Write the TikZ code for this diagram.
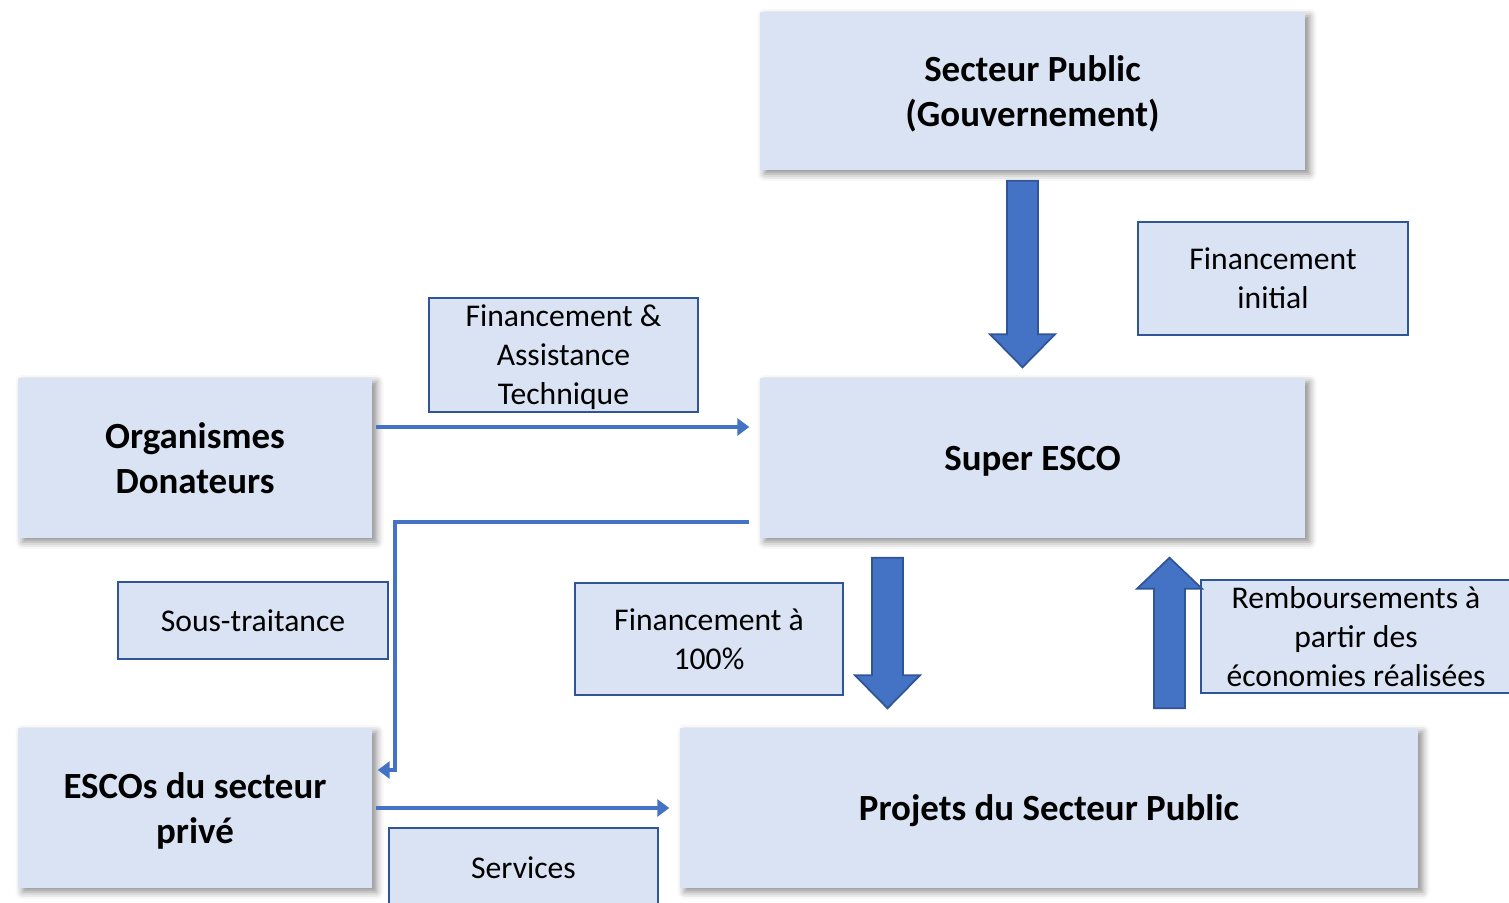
\documentclass[tikz,border=0pt]{standalone}
\usepackage{fontspec}
\setmainfont{Carlito}
\usetikzlibrary{calc,arrows.meta,shadows.blur}
\definecolor{boxfill}{HTML}{DAE3F3}
\definecolor{flowblue}{HTML}{4472C4}
\definecolor{edgeblue}{HTML}{2F5597}
\newcommand\boxtext[1]{\raisebox{-0.1em}[\dimexpr\height-1mm\relax][\dimexpr\depth-1mm\relax]{\begin{tabular}{@{}c@{}}#1\end{tabular}}}
\def\blockarrow(#1)(#2)(#3){\draw[fill=flowblue, draw=edgeblue, line width=0.5pt] ($(#1)+(-0.155,0)$) -- ($(#2)+(-0.155,#3)$) -- ($(#2)+(-0.325,#3)$) -- (#2) -- ($(#2)+(0.325,#3)$) -- ($(#2)+(0.155,#3)$) -- ($(#1)+(0.155,0)$) -- cycle;}
\tikzset{
	entity/.style={fill=boxfill, inner sep=0pt,
		blur shadow={shadow xshift=1.3pt, shadow yshift=-1.1pt, shadow blur radius=2pt, shadow opacity=45},
		font=\fontsize{10.5}{12.8}\selectfont\bfseries},
	tag/.style={fill=boxfill, draw=edgeblue, line width=0.7pt, inner sep=0pt,
		font=\fontsize{9}{11.1}\selectfont},
	flow/.style={flowblue, line width=1.4pt, -{Triangle[length=1.2mm, width=1.7mm]}}
}

\begin{document}
\begin{tikzpicture}
			%%%%% START %%%%%
			
			\useasboundingbox (0, 0) rectangle (15.09, -9.02);
			
			\node[entity, minimum width=5.45cm, minimum height=1.58cm] (sp) at (10.325, -0.91) {\boxtext{Secteur Public\\(Gouvernement)}};
			\node[entity, minimum width=5.45cm, minimum height=1.6cm] (sesco) at (10.325, -4.58) {\boxtext{Super ESCO}};
			\node[entity, minimum width=3.54cm, minimum height=1.6cm] (org) at (1.95, -4.58) {\boxtext{Organismes\\Donateurs}};
			\node[entity, minimum width=3.54cm, minimum height=1.6cm] (escos) at (1.95, -8.08) {\boxtext{ESCOs du secteur\\privé}};
			\node[entity, minimum width=7.38cm, minimum height=1.6cm] (projets) at (10.49, -8.08) {\boxtext{Projets du Secteur Public}};
			
			\node[tag, minimum width=2.7cm, minimum height=1.13cm] (finit) at (12.73, -2.785) {\boxtext{Financement\\initial}};
			\node[tag, minimum width=2.69cm, minimum height=1.14cm] (fat) at (5.635, -3.55) {\boxtext{Financement \&\\Assistance\\Technique}};
			\node[tag, minimum width=2.7cm, minimum height=0.77cm] (sous) at (2.53, -6.205) {\boxtext{Sous-traitance}};
			\node[tag, minimum width=2.68cm, minimum height=1.12cm] (fcent) at (7.09, -6.39) {\boxtext{Financement à\\100\%}};
			\node[tag, minimum width=3.1cm, minimum height=1.13cm] (remb) at (13.56, -6.365) {\boxtext{Remboursements à\\partir des\\économies réalisées}};
			\node[tag, minimum width=2.69cm, minimum height=0.8cm] (serv) at (5.235, -8.68) {\boxtext{Services}};
			
			% block arrows
			\coordinate (a1) at ([xshift=-1mm, yshift=-1mm]sp.south);
			\coordinate (b1) at ([xshift=-1mm, yshift=1mm]sesco.north);
			\blockarrow(a1)(b1)(0.33)
			
			\coordinate (a2) at ([xshift=-14.5mm, yshift=-1.9mm]sesco.south);
			\coordinate (b2) at ([xshift=-16.15mm, yshift=1.9mm]projets.north);
			\blockarrow(a2)(b2)(0.33)
			
			\coordinate (a3) at ([xshift=12.05mm, yshift=1.9mm]projets.north);
			\coordinate (b3) at ([xshift=13.7mm, yshift=-1.9mm]sesco.south);
			\blockarrow(a3)(b3)(-0.31)
			
			% line arrows
			\draw[flow] ([xshift=0.3mm, yshift=3.1mm]org.east) -- ([xshift=-1mm, yshift=3.1mm]sesco.west);
			
			\coordinate (knee) at (3.95, -5.22);
			\draw[flow] ([xshift=-1mm, yshift=-6.4mm]sesco.west) -- (knee) |- ([xshift=0.5mm, yshift=3.8mm]escos.east);
			
			\draw[flow] ([xshift=0.3mm]escos.east) -- ([xshift=-1mm]projets.west);
			
			%%%%% END %%%%%
\end{tikzpicture}
\end{document}
